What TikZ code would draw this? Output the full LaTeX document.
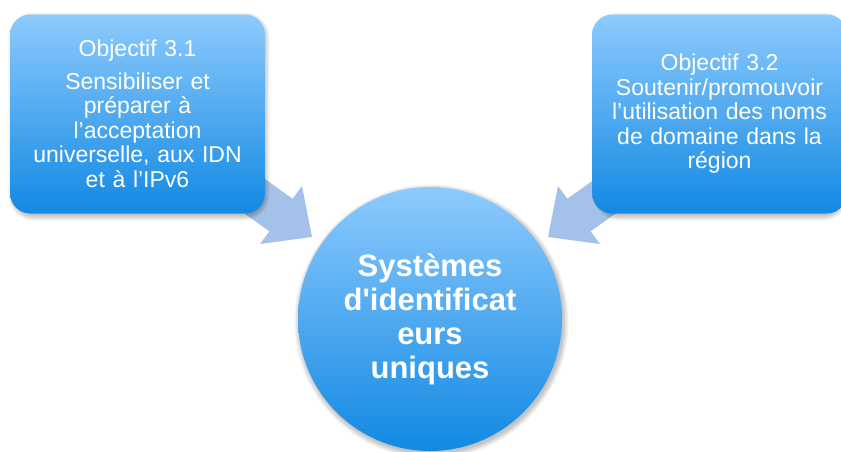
\documentclass[tikz,border=0pt]{standalone}
\usepackage{fontspec}
\setmainfont{Liberation Sans}
\usetikzlibrary{calc}
\definecolor{boxtop}{HTML}{8DCAFD}
\definecolor{boxbot}{HTML}{1289E3}
\definecolor{arrowc}{HTML}{A4C2E9}
\tikzset{
  objbox/.style={rounded corners=20pt, minimum width=251pt, minimum height=199pt,
    top color=boxtop, bottom color=boxbot, draw=none, text=white, align=center,
    text width=248pt, font=\fontsize{23}{24.5}\selectfont},
  hub/.style={circle, minimum size=264pt, top color=boxtop, bottom color=boxbot, draw=none,
    text=white, align=center, font=\bfseries\fontsize{31}{34}\selectfont},
  softshadow/.style={fill=black, opacity=0.045, draw=none},
  blockarrow/.style={fill=arrowc, draw=none}
}
\begin{document}
\begin{tikzpicture}[x=1pt,y=-1pt]
\useasboundingbox (0,0) rectangle (841,451);
\clip (0,0) rectangle (841,451);
% block arrows (behind the boxes)
\coordinate (t1) at (312,237);
\coordinate (t2) at (548,237);
\fill[blockarrow] (188,173.3) -- (269.4,231.3) -- (260,244) -- (t1) -- (302,186) -- (292.6,198.7) -- (211.1,140.7) -- cycle;
\fill[blockarrow] (672,173.3) -- (590.6,231.3) -- (600,244) -- (t2) -- (558,186) -- (567.4,198.7) -- (648.9,140.7) -- cycle;
% soft shadows
\foreach \i in {0,1,2,3,4,5}{
  \fill[softshadow, rounded corners={20pt+\i pt}] ({12-\i+1.5},{15-\i+2.5}) rectangle ({263+\i+1.5},{213+\i+2.5});
  \fill[softshadow, rounded corners={20pt+\i pt}] ({597-\i+1.5},{15-\i+2.5}) rectangle ({842+\i+1.5},{213+\i+2.5});
  \fill[softshadow] (431.5,321.5) circle ({132+\i});
}
% boxes
\node[objbox] (o1) at (137.5,114) {Objectif 3.1\\[8pt]Sensibiliser et\\préparer à\\l’acceptation\\universelle, aux IDN\\et à l’IPv6};
\node[objbox] (o2) at (719.5,114) {Objectif 3.2\\Soutenir/promouvoir\\l’utilisation des noms\\de domaine dans la\\région};
% hub
\node[hub] (c) at (430,319) {Systèmes\\d\textquotesingle identificat\\eurs\\uniques};
\end{tikzpicture}
\end{document}
